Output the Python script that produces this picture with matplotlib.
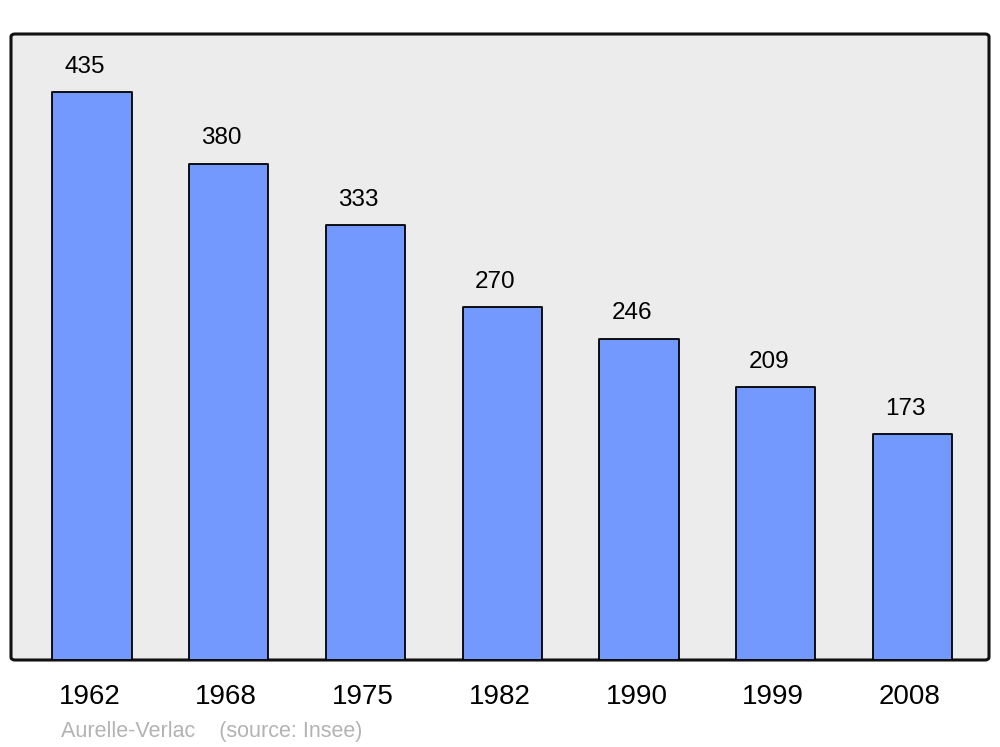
import matplotlib.pyplot as plt
import matplotlib.transforms as mtransforms
from matplotlib.patches import FancyBboxPatch

years = ['1962', '1968', '1975', '1982', '1990', '1999', '2008']
population = [435, 380, 333, 270, 246, 209, 173]

plt.rcParams['font.family'] = ['Liberation Sans', 'DejaVu Sans']

fig = plt.figure(figsize=(10, 7.47), dpi=100)
W, H = 1000, 747
# axes area in pixels: x 11..989, y 34..660
ax = fig.add_axes([11 / W, (H - 660) / H, 978 / W, 626 / H])
ax.set_facecolor('none')
for s in ax.spines.values():
    s.set_visible(False)

# rounded grey frame behind the axes
frame = FancyBboxPatch((11 / W, (H - 660) / H), 978 / W, 626 / H,
                       boxstyle='round,pad=0,rounding_size=0.004',
                       transform=fig.transFigure, facecolor='#ececec',
                       edgecolor='#111111', linewidth=2.2, zorder=-5)
fig.patches.append(frame)

x = list(range(len(years)))
bars = ax.bar(x, population, width=0.58, color='#7399ff', edgecolor='#000000',
              linewidth=1.3, zorder=2)
for b in bars:
    b.set_joinstyle('round')

for xi, v in zip(x, population):
    ax.annotate(str(v), (xi, v), xytext=(-5, 14), textcoords='offset points',
                ha='center', va='baseline', fontsize=17.5, color='#000000')

ax.set_xlim(-0.592, 6.559)
ax.set_ylim(0, 479.4)
ax.set_yticks([])
ax.set_xticks(x)
ax.set_xticklabels(years, fontsize=20)
ax.tick_params(axis='x', length=0, pad=17.5)
offset = mtransforms.ScaledTranslation(-2.5 / 100, 0, fig.dpi_scale_trans)
for lbl in ax.get_xticklabels():
    lbl.set_transform(lbl.get_transform() + offset)

fig.text(61 / W, 1 - 732 / H, 'Aurelle-Verlac    (source: Insee)', fontsize=15.5,
         color='#b3b3b3', ha='left', va='center')

fig.savefig('out.png', dpi=100, facecolor='white')
